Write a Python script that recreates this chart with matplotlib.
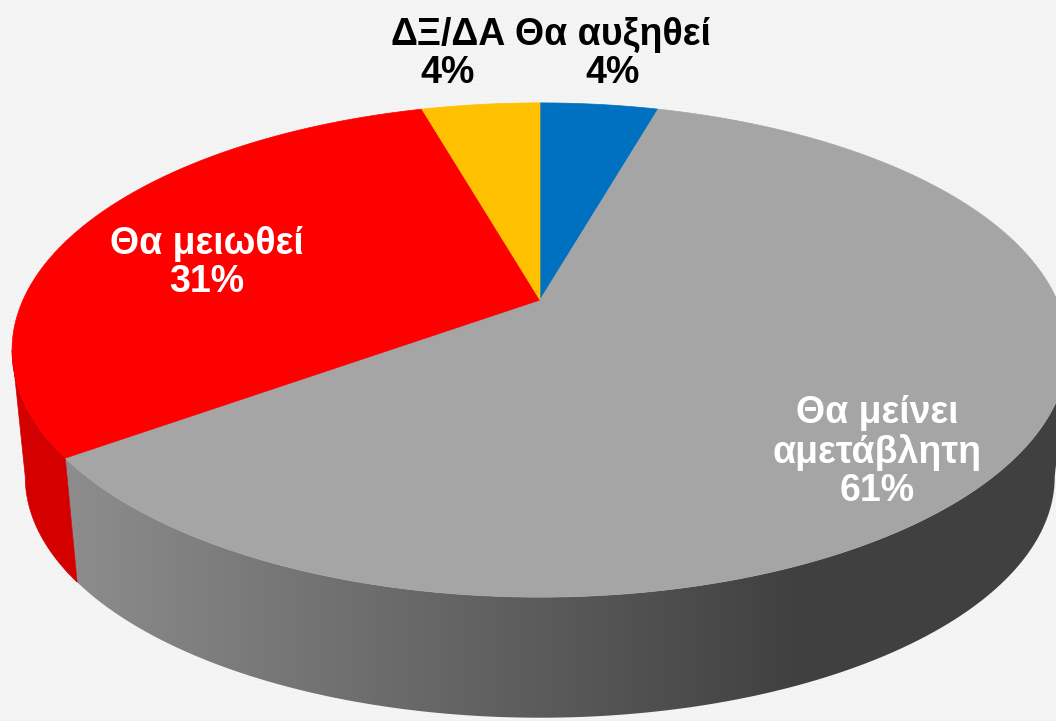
import numpy as np
import matplotlib.pyplot as plt
from matplotlib.patches import Polygon
from matplotlib.colors import LinearSegmentedColormap

# data (shares, labels show them rounded)
labels = ['Θα αυξηθεί', 'Θα μείνει\nαμετάβλητη', 'Θα μειωθεί', 'ΔΞ/ΔΑ']
values = [4.4, 60.6, 30.6, 4.4]
top_colors = ['#0070C0', '#A5A5A5', '#FF0000', '#FFC000']
side_colors = ['#005A9A', 'gradient', '#D40000', '#CC9A00']

# layout (pixels)
W, H = 1056, 721
cx, cy = 540, 300          # apex of the pie
A, B, k = 517, 237, 0.2024  # perspective ellipse
s, drop = 0.975, 128        # bottom face scale and shift
label_xy = [(613, 54), (877, 452), (207, 263), (448, 54)]
label_colors = ['black', 'white', 'white', 'black']


def top_pt(theta):
    u = np.sin(theta)
    v = -np.cos(theta)
    w = 1 - k * v
    return cx + A * u / w, cy + B * v / w


def bottom_pt(theta):
    x, y = top_pt(theta)
    return cx + s * (x - cx), cy + drop + s * (y - cy)


fig = plt.figure(figsize=(W / 100, H / 100), dpi=100)
fig.patch.set_facecolor('#f2f2f2')
ax = fig.add_axes([0, 0, 1, 1])
ax.set_xlim(0, W)
ax.set_ylim(H, 0)
ax.axis('off')

# faint background texture
yy, xx = np.mgrid[0:H, 0:W]
tex = 0.948 + 0.012 * (((xx + yy) // 4 + (xx - yy) // 4) % 2)
ax.imshow(tex, cmap='gray', vmin=0, vmax=1, extent=(0, W, H, 0), zorder=0, aspect='auto')

frac = np.cumsum([0] + values) / sum(values) * 2 * np.pi
f0 = np.arccos(-k)
f1 = 2 * np.pi - f0

# sides
gray_cmap = LinearSegmentedColormap.from_list('side', ['#8c8c8c', '#404040'])
for i in range(len(values)):
    lo, hi = max(frac[i], f0), min(frac[i + 1], f1)
    if lo >= hi:
        continue
    t = np.linspace(lo, hi, 200)
    tx, ty = top_pt(t)
    bx, by = bottom_pt(t)
    pts = np.column_stack([np.r_[tx, bx[::-1]], np.r_[ty, by[::-1]]])
    if side_colors[i] == 'gradient':
        patch = Polygon(pts, closed=True, facecolor='none', edgecolor='none', zorder=1)
        ax.add_patch(patch)
        grad = np.clip((np.arange(W) - 75) / (800 - 75), 0, 1)[None, :]
        im = ax.imshow(grad, cmap=gray_cmap, vmin=0, vmax=1, extent=(0, W, H, 0),
                       aspect='auto', zorder=1)
        im.set_clip_path(patch)
    else:
        ax.add_patch(Polygon(pts, closed=True, facecolor=side_colors[i],
                             edgecolor=side_colors[i], lw=0.5, zorder=1))

# top face
for i in range(len(values)):
    t = np.linspace(frac[i], frac[i + 1], 300)
    tx, ty = top_pt(t)
    pts = np.column_stack([np.r_[cx, tx], np.r_[cy, ty]])
    ax.add_patch(Polygon(pts, closed=True, facecolor=top_colors[i],
                         edgecolor=top_colors[i], lw=0.5, zorder=2))

# labels
for i, lab in enumerate(labels):
    ax.text(label_xy[i][0], label_xy[i][1], lab + '\n' + f'{values[i]:.0f}%',
            ha='center', va='center', color=label_colors[i],
            fontsize=27, fontweight='bold', family=['Liberation Sans', 'DejaVu Sans'],
            linespacing=1.1, zorder=3)

fig.savefig('out.png', dpi=100, facecolor=fig.get_facecolor())
